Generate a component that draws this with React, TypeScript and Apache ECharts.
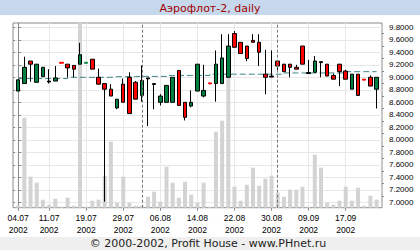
import React, { useEffect, useRef } from "react";
import * as echarts from "echarts";

const title = "Аэрофлот-2, daily";
const footer = "© 2000-2002, Profit House - www.PHnet.ru";
const year = "2002";

const dates = [
  "04.07", "05.07", "08.07", "09.07", "10.07", "11.07", "12.07", "15.07", "16.07", "17.07",
  "18.07", "19.07", "22.07", "23.07", "24.07", "25.07", "26.07", "29.07", "30.07", "31.07",
  "01.08", "02.08", "05.08", "06.08", "07.08", "08.08", "09.08", "12.08", "13.08", "14.08",
  "15.08", "16.08", "19.08", "20.08", "21.08", "22.08", "23.08", "26.08", "27.08", "28.08",
  "29.08", "30.08", "02.09", "03.09", "04.09", "05.09", "06.09", "09.09", "10.09", "11.09",
  "12.09", "13.09", "16.09", "17.09", "18.09", "19.09", "20.09", "23.09", "24.09",
];

// x positions (indices into dates) that carry a date label / grid line
const dateTickIndex = [0, 5, 11, 17, 23, 29, 35, 41, 47, 53];
// first trading day of a month: dashed separator
const monthStartIndex = [20, 42];

const priceTicks = [7.0, 7.2, 7.4, 7.6, 7.8, 8.0, 8.2, 8.4, 8.6, 8.8, 9.0, 9.2, 9.4, 9.6, 9.8];
const priceMinorTicks = [7.1, 7.3, 7.5, 7.7, 7.9, 8.1, 8.3, 8.5, 8.7, 8.9, 9.1, 9.3, 9.5, 9.7];

// [open, close, low, high]
const ohlc: number[][] = [
  [8.78, 8.96, 8.78, 8.96],
  [8.90, 9.16, 8.90, 9.33],
  [9.26, 9.21, 8.93, 9.26],
  [8.92, 9.21, 8.92, 9.21],
  [9.01, 9.16, 9.01, 9.16],
  [8.94, 8.925, 8.90, 9.13],
  [8.94, 8.99, 8.94, 9.18],
  [9.24, 9.225, 9.225, 9.24],
  [9.21, 9.15, 9.00, 9.21],
  [9.19, 9.13, 9.00, 9.19],
  [9.21, 9.36, 9.21, 9.55],
  [9.225, 9.24, 9.225, 9.24],
  [9.29, 9.13, 9.13, 9.29],
  [9.00, 8.89, 8.89, 9.14],
  [8.90, 8.81, 7.01, 8.90],
  [8.81, 8.70, 8.70, 8.89],
  [8.51, 8.65, 8.49, 8.65],
  [8.89, 8.60, 8.60, 8.98],
  [9.00, 8.42, 8.42, 9.08],
  [8.92, 8.65, 8.65, 8.94],
  [8.71, 8.95, 8.61, 9.19],
  [8.99, 8.975, 8.22, 8.99],
  [8.90, 8.885, 8.49, 8.90],
  [8.60, 8.70, 8.55, 8.73],
  [8.60, 8.87, 8.60, 8.87],
  [8.60, 9.00, 8.60, 9.00],
  [9.11, 8.55, 8.54, 9.11],
  [8.60, 8.36, 8.31, 8.60],
  [8.54, 8.60, 8.52, 8.79],
  [8.78, 9.21, 8.78, 9.21],
  [8.70, 8.79, 8.68, 9.20],
  [8.91, 8.895, 8.895, 8.91],
  [8.90, 9.21, 8.61, 9.43],
  [8.90, 9.31, 8.90, 9.69],
  [9.00, 9.50, 9.00, 9.69],
  [9.70, 9.48, 9.48, 9.74],
  [9.56, 9.38, 9.38, 9.56],
  [9.50, 9.30, 9.26, 9.50],
  [9.59, 9.56, 9.56, 9.69],
  [9.56, 9.40, 9.18, 9.69],
  [9.05, 9.00, 8.73, 9.44],
  [9.02, 9.005, 9.00, 9.43],
  [9.26, 9.18, 9.11, 9.26],
  [9.21, 9.09, 9.09, 9.21],
  [9.21, 9.16, 9.00, 9.21],
  [9.16, 9.13, 9.13, 9.20],
  [9.50, 9.21, 9.21, 9.50],
  [9.075, 9.06, 9.06, 9.28],
  [9.08, 9.26, 9.08, 9.34],
  [9.25, 9.235, 9.00, 9.25],
  [9.21, 9.02, 9.02, 9.21],
  [9.03, 8.97, 8.97, 9.06],
  [9.21, 9.09, 8.86, 9.21],
  [9.10, 8.97, 8.97, 9.12],
  [8.81, 9.05, 8.81, 9.05],
  [9.05, 8.71, 8.71, 9.05],
  [8.97, 8.955, 8.955, 8.97],
  [9.00, 8.86, 8.86, 9.03],
  [8.81, 9.00, 8.50, 9.00],
];

// days drawn as a flat dash in a single colour
const redDashIndex = [7, 31, 56];
const greenDashIndex = [11];
const blackDashIndex = [5, 21, 22, 41, 47, 49];

const volume = [
  20, 900, 310, 250, 80, 30, 90, 10, 100, 20,
  1847, 10, 70, 80, 320, 660, 50, 310, 50, 20,
  20, 110, 160, 60, 410, 250, 100, 260, 130, 50,
  250, 10, 760, 870, 1480, 210, 70, 230, 400, 220,
  290, 320, 150, 110, 180, 180, 210, 10, 530, 400,
  50, 30, 70, 210, 70, 200, 20, 120, 80,
];

const avgLine: (number | null)[] = [
  8.98, 8.98, 8.98, 8.98, 8.98, 8.98, 8.98, 8.98, 9.0, 9.0,
  9.0, 9.0, 9.0, 9.0, 9.0, 9.01, 9.01, 9.01, 9.01, 9.015,
  9.015, 9.015, 9.015, 9.015, 9.03, 9.03, 9.03, 9.03, 9.03, 9.03,
  9.03, 9.05, 9.05, 9.05, 9.05, 9.05, 9.05, 9.05, 9.05, 9.05,
  9.05, 9.05, 9.05, 9.07, 9.07, 9.07, 9.07, 9.07, 9.07, 9.07,
  9.07, 9.07, 9.07, 9.09, 9.09, 9.09, 9.09, 9.09, null,
];

const UP = "#008040";
const DOWN = "#ff0000";
const FRAME = "#8a8a8a";
const GRIDC = "#e8e8e8";

export default function App() {
  const ref = useRef<HTMLDivElement>(null);
  useEffect(() => {
    if (!ref.current) return;
    const chart = echarts.init(ref.current, undefined, { renderer: "svg" });

    const candleData = ohlc.map((d, i) => {
      const item: any = { value: [i, d[0], d[1], d[2], d[3]] };
      let c: string | null = null;
      if (redDashIndex.includes(i)) c = DOWN;
      else if (greenDashIndex.includes(i)) c = UP;
      else if (blackDashIndex.includes(i)) c = "#000";
      if (c) {
        item.itemStyle = { color: c, color0: c, borderColor: c, borderColor0: c, borderColorDoji: c };
      }
      return item;
    });

    const yMin = 6.9136;
    const yMax = 9.8688;
    const font = "Liberation Sans";

    chart.setOption({
      animation: false,
      backgroundColor: "#ffffff",
      graphic: [
        { type: "rect", z: 0, shape: { x: 0, y: 0, width: 420, height: 15 }, style: { fill: "#c5d8ec" } },
        {
          type: "text", z: 1, x: 210, y: 8,
          style: { text: title, fill: "#a00000", font: '11px "DejaVu Sans"', align: "center", verticalAlign: "middle" },
        },
        { type: "rect", z: 0, shape: { x: 0, y: 237, width: 420, height: 13 }, style: { fill: "#efefef" } },
        {
          type: "text", z: 1, x: 208, y: 243.5,
          style: { text: footer, fill: "#222", font: '11px "DejaVu Sans"', align: "center", verticalAlign: "middle" },
        },
      ],
      grid: {
        left: 13, right: 38, top: 23, bottom: 42.3,
        show: true, borderColor: FRAME, borderWidth: 1, backgroundColor: "#fff",
      },
      xAxis: {
        type: "value",
        min: -0.841,
        max: 58.874,
        axisLine: { show: false },
        axisTick: { show: true, customValues: dateTickIndex, length: 3, lineStyle: { color: FRAME } },
        axisLabel: {
          customValues: dateTickIndex,
          formatter: (v: number) => dates[Math.round(v)] + "\n" + year,
          margin: 5,
          fontFamily: font,
          fontSize: 8.5,
          lineHeight: 11.6,
          color: "#000",
        },
        splitLine: { show: true, lineStyle: { color: GRIDC, width: 1 } },
      },
      yAxis: [
        {
          type: "value", position: "right", min: yMin, max: yMax,
          axisLine: { show: true, lineStyle: { color: FRAME } },
          axisTick: { show: true, customValues: priceTicks, length: 3, lineStyle: { color: FRAME } },
          axisLabel: {
            customValues: priceTicks,
            formatter: (v: number) => v.toFixed(4),
            margin: 7, fontFamily: font, fontSize: 8, color: "#000",
          },
          splitLine: { show: true, lineStyle: { color: GRIDC, width: 1 } },
        },
        {
          type: "value", position: "left", min: yMin, max: yMax,
          axisLine: { show: false },
          axisTick: { show: true, inside: true, customValues: priceTicks, length: 2, lineStyle: { color: FRAME } },
          axisLabel: { show: false },
          splitLine: { show: false },
        },
        {
          type: "value", position: "right", min: yMin, max: yMax,
          axisLine: { show: false },
          axisTick: { show: true, customValues: priceMinorTicks, length: 2, lineStyle: { color: FRAME } },
          axisLabel: { show: false },
          splitLine: { show: false },
        },
        { type: "value", min: 0, max: 1847, show: false },
      ],
      series: [
        {
          type: "bar",
          yAxisIndex: 3,
          data: volume.map((v, i) => [i, v]),
          barWidth: 4,
          itemStyle: { color: "#d3d3d3" },
          z: 1,
          silent: true,
        },
        {
          type: "line",
          yAxisIndex: 0,
          data: avgLine.map((v, i) => [i, v]),
          step: "end",
          symbol: "none",
          lineStyle: { color: "#3d8585", width: 1, type: [6, 3] },
          z: 2,
          silent: true,
          markLine: {
            silent: true,
            symbol: "none",
            label: { show: false },
            lineStyle: { color: "#777", width: 1, type: [3, 2] },
            data: monthStartIndex.map((i) => ({ xAxis: i })),
          },
        },
        {
          type: "candlestick",
          yAxisIndex: 0,
          encode: { x: 0, y: [1, 2, 3, 4] },
          data: candleData,
          barWidth: 4,
          z: 3,
          itemStyle: {
            color: UP,
            color0: DOWN,
            borderColor: "#000",
            borderColor0: "#000",
            borderColorDoji: "#000",
            borderWidth: 1,
          },
        },
      ],
    });
    return () => chart.dispose();
  }, []);
  return (
    <div
      ref={ref}
      style={{ position: "fixed", left: 0, top: 0, width: 420, height: 250, background: "#fff" }}
    />
  );
}
